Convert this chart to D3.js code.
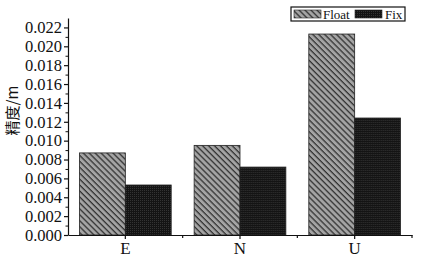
<!DOCTYPE html>
<html lang="zh">
<head>
<meta charset="UTF-8">
<script src="https://d3js.org/d3.v7.min.js"></script>
<style>
  body { margin: 0; background: #fff; }
  svg text { font-family: "Liberation Serif", "DejaVu Serif", serif; fill: #111; }
</style>
</head>
<body>
<svg width="437" height="260"></svg>
<script>
const categories = ["E", "N", "U"];
const seriesNames = ["Float", "Fix"];
const floatValues = [0.0087, 0.0095, 0.0213];
const fixValues = [0.0053, 0.0072, 0.0124];
const yTickValues = [0, 0.002, 0.004, 0.006, 0.008, 0.010, 0.012, 0.014, 0.016, 0.018, 0.020, 0.022];
const yLabel = "精度/m";

const margin = { top: 18, right: 25, bottom: 25, left: 68 };
const width = 437 - margin.left - margin.right;
const height = 260 - margin.top - margin.bottom;

const svg = d3.select("svg");
const defs = svg.append("defs");

// diagonal hatch for Float
const hatch = defs.append("pattern")
  .attr("id", "hatch")
  .attr("patternUnits", "userSpaceOnUse")
  .attr("width", 4.2).attr("height", 4.2)
  .attr("patternTransform", "rotate(45)");
hatch.append("rect").attr("width", 4.2).attr("height", 4.2).attr("fill", "#a4a4a4");
hatch.append("rect").attr("width", 4.2).attr("height", 1.3).attr("fill", "#333");

// dense dark texture for Fix
const dark = defs.append("pattern")
  .attr("id", "dark")
  .attr("patternUnits", "userSpaceOnUse")
  .attr("width", 2).attr("height", 2);
dark.append("rect").attr("width", 2).attr("height", 2).attr("fill", "#141414");
dark.append("rect").attr("width", 1).attr("height", 1).attr("fill", "#333");

const g = svg.append("g").attr("transform", `translate(${margin.left},${margin.top})`);

const x = d3.scaleBand().domain(categories).range([0, width]).paddingInner(0).paddingOuter(0);
const x1 = d3.scaleBand().domain(seriesNames).range([x.bandwidth() * 0.1, x.bandwidth() * 0.9]);
const y = d3.scaleLinear().domain([0, 0.023]).range([height, 0]);

const data = categories.map((c, i) => ({ cat: c, values: [
  { key: "Float", v: floatValues[i] },
  { key: "Fix", v: fixValues[i] }
]}));

g.selectAll(".grp")
  .data(data)
  .enter().append("g")
  .attr("transform", d => `translate(${x(d.cat)},0)`)
  .selectAll("rect")
  .data(d => d.values)
  .enter().append("rect")
  .attr("x", d => x1(d.key))
  .attr("width", x1.bandwidth())
  .attr("y", d => y(d.v))
  .attr("height", d => height - y(d.v))
  .attr("fill", d => d.key === "Float" ? "url(#hatch)" : "url(#dark)")
  .attr("stroke", "#222")
  .attr("stroke-width", 0.8);

// y axis
const yAxis = g.append("g")
  .call(d3.axisLeft(y).tickValues(yTickValues).tickFormat(d3.format(".3f")).tickSize(4).tickSizeOuter(0));
yAxis.select(".domain").attr("stroke", "#111").attr("stroke-width", 1.2);
yAxis.selectAll(".tick line").attr("stroke", "#111").attr("stroke-width", 1.2);
yAxis.selectAll("text").style("font-size", "16.5px").attr("x", -6);
g.append("g")
  .call(d3.axisLeft(y).tickValues(d3.range(0.001, 0.023, 0.002)).tickFormat("").tickSize(2.5).tickSizeOuter(0))
  .call(a => a.select(".domain").remove())
  .selectAll("line").attr("stroke", "#111");

// x axis
const xAxis = g.append("g")
  .attr("transform", `translate(0,${height})`)
  .call(d3.axisBottom(x).tickSize(4).tickSizeOuter(0).tickPadding(3));
xAxis.select(".domain").attr("stroke", "#111").attr("stroke-width", 1.2);
xAxis.selectAll(".tick line").attr("stroke", "#111").attr("stroke-width", 1.2);
xAxis.selectAll("text").style("font-size", "17px");
g.append("g")
  .attr("transform", `translate(0,${height})`)
  .selectAll("line")
  .data(categories.slice(1).map(c => x(c)).concat([width]))
  .enter().append("line")
  .attr("x1", d => d).attr("x2", d => d)
  .attr("y1", 0).attr("y2", 3)
  .attr("stroke", "#111").attr("stroke-width", 1.2);

// y label
svg.append("text")
  .attr("transform", `translate(18,${margin.top + height / 2 - 16}) rotate(-90)`)
  .attr("text-anchor", "middle")
  .style("font-family", "'Noto Sans CJK SC', serif")
  .style("font-size", "15px")
  .text(yLabel);

// legend
const legend = svg.append("g").attr("transform", "translate(291,7)");
legend.append("rect").attr("width", 114).attr("height", 14)
  .attr("fill", "#fff").attr("stroke", "#111").attr("stroke-width", 1.2);
const items = [
  { name: "Float", fill: "url(#hatch)", sx: 3, tx: 32 },
  { name: "Fix", fill: "url(#dark)", sx: 64, tx: 94 }
];
items.forEach(it => {
  legend.append("rect").attr("x", it.sx).attr("y", 3).attr("width", 27).attr("height", 8)
    .attr("fill", it.fill).attr("stroke", "#222").attr("stroke-width", 0.6);
  legend.append("text").attr("x", it.tx).attr("y", 11.5)
    .style("font-size", "13px").text(it.name);
});
</script>
</body>
</html>
